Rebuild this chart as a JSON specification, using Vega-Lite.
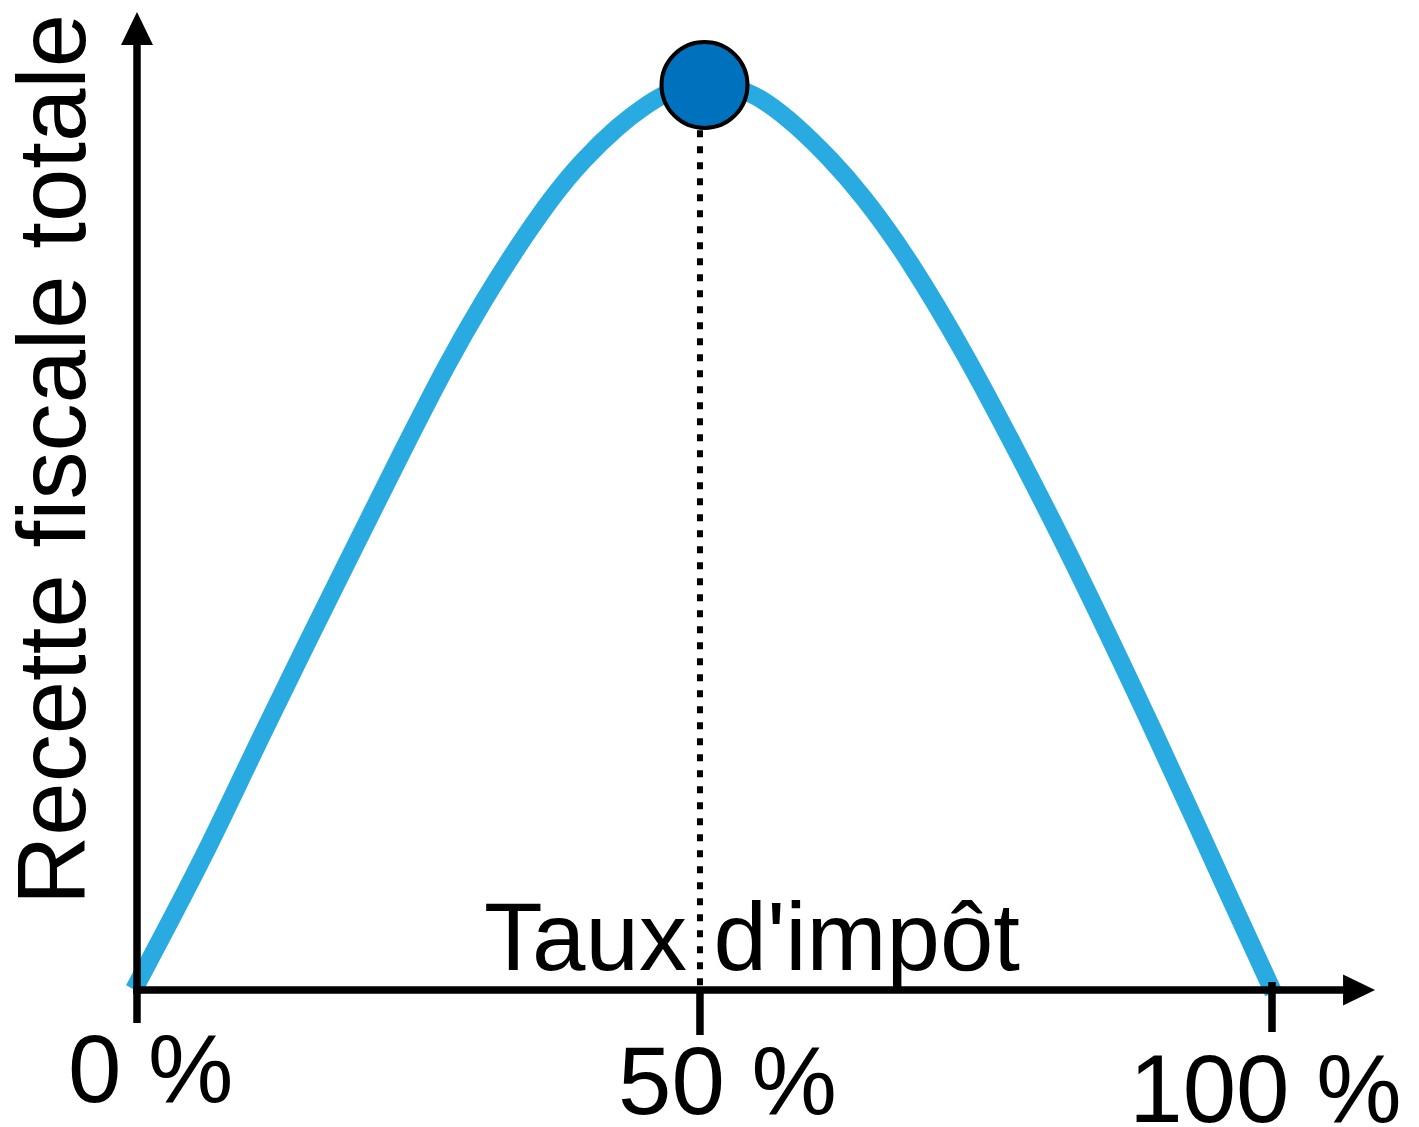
{
  "$schema": "https://vega.github.io/schema/vega-lite/v6.json",
  "width": 1248.5,
  "height": 978,
  "autosize": {"type": "none"},
  "padding": {"left": 137, "top": 12, "right": 33.5, "bottom": 137},
  "background": "white",
  "config": {"view": {"stroke": null}},
  "datasets": {
    "curve": [
      {"taux": -0.264, "recette": 0.055},
      {"taux": 6.256, "recette": 15.47},
      {"taux": 10.308, "recette": 26.52},
      {"taux": 19.031, "recette": 48.62},
      {"taux": 23.436, "recette": 59.67},
      {"taux": 27.489, "recette": 69.62},
      {"taux": 30.573, "recette": 76.25},
      {"taux": 33.04, "recette": 81.22},
      {"taux": 36.564, "recette": 87.65},
      {"taux": 39.207, "recette": 91.62},
      {"taux": 42.467, "recette": 95.58},
      {"taux": 44.846, "recette": 97.79},
      {"taux": 46.608, "recette": 99.12},
      {"taux": 48.37, "recette": 99.95},
      {"taux": 50.132, "recette": 100.22},
      {"taux": 51.894, "recette": 100.0},
      {"taux": 53.656, "recette": 99.34},
      {"taux": 55.419, "recette": 98.19},
      {"taux": 57.974, "recette": 95.69},
      {"taux": 61.145, "recette": 91.79},
      {"taux": 63.877, "recette": 87.9},
      {"taux": 67.841, "recette": 81.16},
      {"taux": 73.304, "recette": 69.62},
      {"taux": 77.445, "recette": 59.67},
      {"taux": 82.026, "recette": 48.62},
      {"taux": 90.396, "recette": 26.52},
      {"taux": 94.361, "recette": 15.47},
      {"taux": 100.132, "recette": -0.28}
    ],
    "axes": [
      {"x": 0, "y": -0.41, "x2": 0, "y2": 104.5},
      {"x": -0.33, "y": 0, "x2": 106.3, "y2": 0}
    ],
    "ticks": [
      {"x": 0, "y": 0, "y2": -3.65},
      {"x": 49.6, "y": 0, "y2": -4.97},
      {"x": 100, "y": 0.88, "y2": -4.64}
    ],
    "arrowsY": [{"x": 0, "y": 106.24}],
    "arrowsX": [{"x": 107.67, "y": 0}],
    "peak": [{"taux": 50, "recette": 100}],
    "dotted": [{"x": 49.6, "y": 95.0, "y2": 0}],
    "ticklabels": [
      {"x": 1.2, "y": -12.38, "label": "0 %"},
      {"x": 52.02, "y": -13.7, "label": "50 %"},
      {"x": 99.42, "y": -14.59, "label": "100 %"}
    ],
    "xtitle": [{"x": 54.19, "y": 2.21, "label": "Taux d'impôt"}],
    "ytitle": [{"x": -4.58, "y": 58.62, "label": "Recette fiscale totale"}]
  },
  "layer": [
    {
      "data": {"name": "dotted"},
      "mark": {"type": "rule", "color": "black", "strokeWidth": 6, "strokeDash": [7, 9]},
      "encoding": {
        "x": {"field": "x", "type": "quantitative", "scale": {"domain": [0, 110], "nice": false, "zero": false}, "axis": null},
        "y": {"field": "y", "type": "quantitative", "scale": {"domain": [0, 108.066], "nice": false, "zero": false}, "axis": null},
        "y2": {"field": "y2"}
      }
    },
    {
      "data": {"name": "curve"},
      "mark": {"type": "line", "color": "#29ABE2", "strokeWidth": 18, "interpolate": "basis", "strokeCap": "butt"},
      "encoding": {
        "x": {"field": "taux", "type": "quantitative"},
        "y": {"field": "recette", "type": "quantitative"}
      }
    },
    {
      "data": {"name": "axes"},
      "mark": {"type": "rule", "color": "black", "strokeWidth": 7.5},
      "encoding": {
        "x": {"field": "x", "type": "quantitative"},
        "y": {"field": "y", "type": "quantitative"},
        "x2": {"field": "x2"},
        "y2": {"field": "y2"}
      }
    },
    {
      "data": {"name": "ticks"},
      "mark": {"type": "rule", "color": "black", "strokeWidth": 7.5},
      "encoding": {
        "x": {"field": "x", "type": "quantitative"},
        "y": {"field": "y", "type": "quantitative"},
        "y2": {"field": "y2"}
      }
    },
    {
      "data": {"name": "arrowsY"},
      "mark": {"type": "point", "shape": "M0,-1L-0.97,1L0.97,1Z", "size": 1089, "filled": true, "color": "black", "opacity": 1},
      "encoding": {
        "x": {"field": "x", "type": "quantitative"},
        "y": {"field": "y", "type": "quantitative"}
      }
    },
    {
      "data": {"name": "arrowsX"},
      "mark": {"type": "point", "shape": "M1,0L-1,-0.97L-1,0.97Z", "size": 1024, "filled": true, "color": "black", "opacity": 1},
      "encoding": {
        "x": {"field": "x", "type": "quantitative"},
        "y": {"field": "y", "type": "quantitative"}
      }
    },
    {
      "data": {"name": "peak"},
      "mark": {"type": "point", "shape": "circle", "size": 7396, "filled": true, "fill": "#0071BC", "stroke": "black", "strokeWidth": 4, "opacity": 1},
      "encoding": {
        "x": {"field": "taux", "type": "quantitative"},
        "y": {"field": "recette", "type": "quantitative"}
      }
    },
    {
      "data": {"name": "ticklabels"},
      "mark": {"type": "text", "font": "Liberation Sans", "fontSize": 96, "align": "center", "baseline": "alphabetic", "color": "black"},
      "encoding": {
        "x": {"field": "x", "type": "quantitative"},
        "y": {"field": "y", "type": "quantitative"},
        "text": {"field": "label"}
      }
    },
    {
      "data": {"name": "xtitle"},
      "mark": {"type": "text", "font": "Liberation Sans", "fontSize": 96, "align": "center", "baseline": "alphabetic", "color": "black"},
      "encoding": {
        "x": {"field": "x", "type": "quantitative"},
        "y": {"field": "y", "type": "quantitative"},
        "text": {"field": "label"}
      }
    },
    {
      "data": {"name": "ytitle"},
      "mark": {"type": "text", "font": "Liberation Sans", "fontSize": 96, "align": "center", "baseline": "alphabetic", "angle": 270, "color": "black"},
      "encoding": {
        "x": {"field": "x", "type": "quantitative"},
        "y": {"field": "y", "type": "quantitative"},
        "text": {"field": "label"}
      }
    }
  ]
}
